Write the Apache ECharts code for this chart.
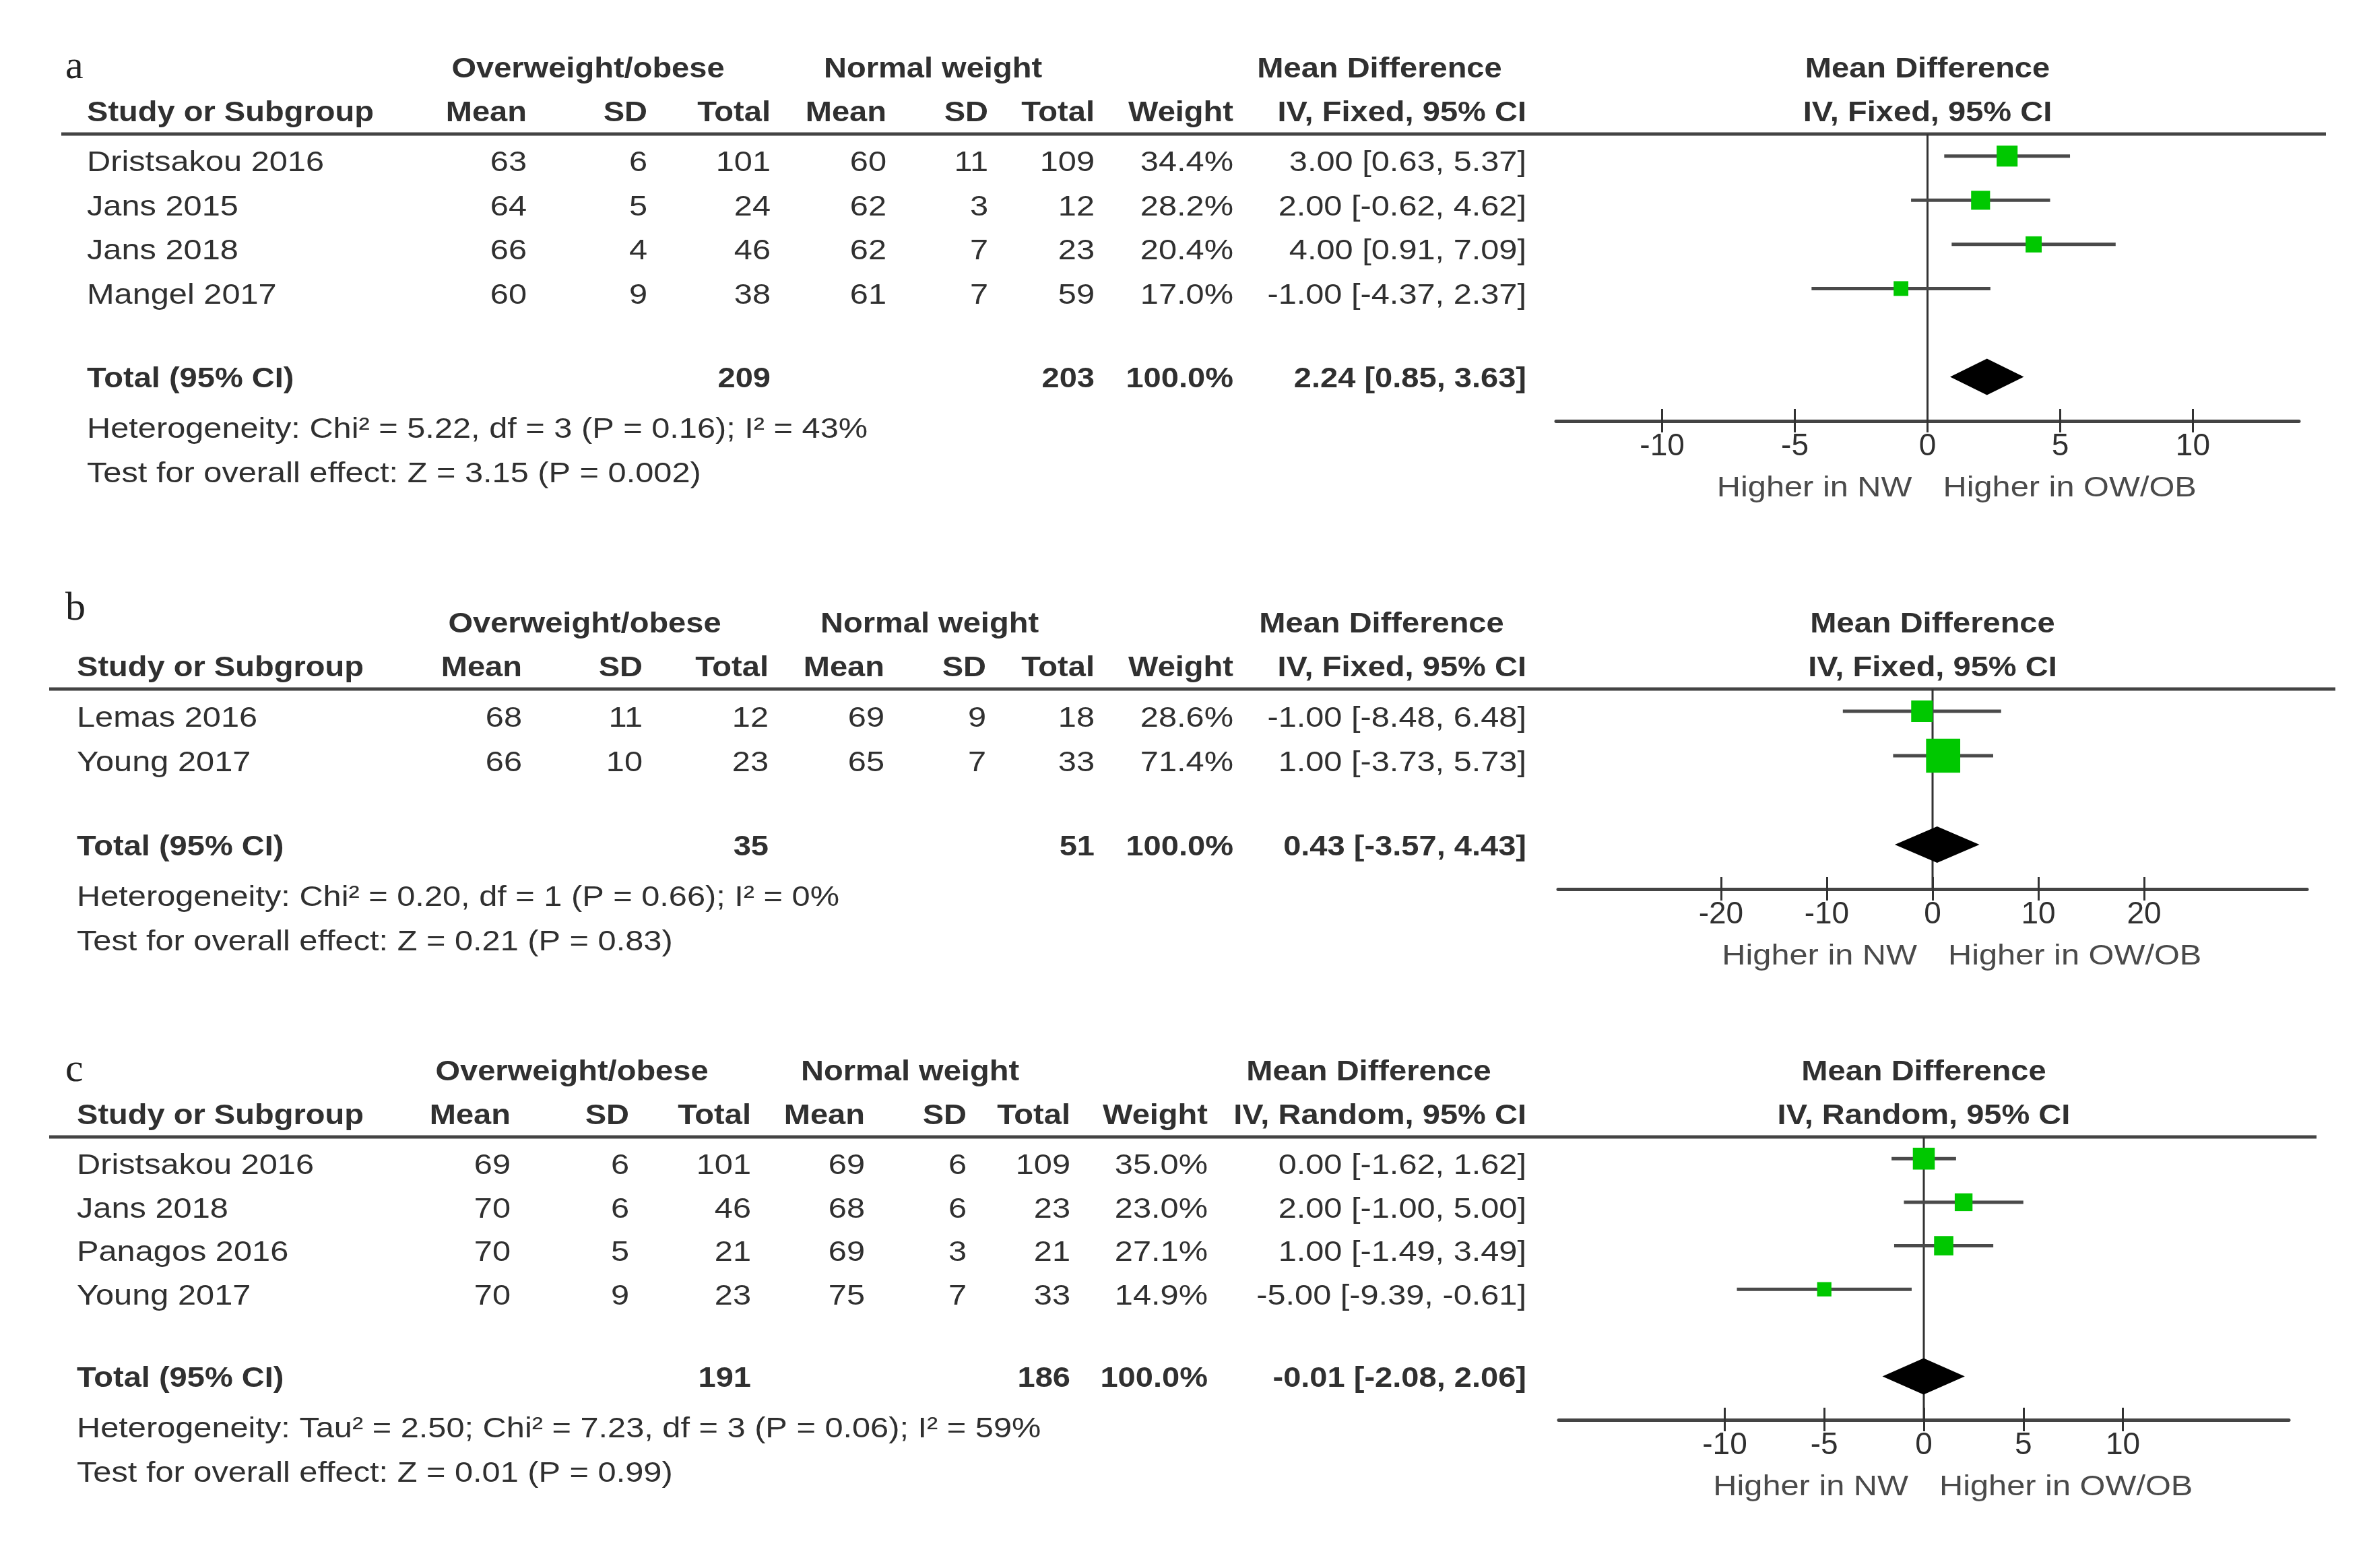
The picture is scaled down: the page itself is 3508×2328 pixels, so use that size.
<!doctype html>
<html lang="en">
  <head>
    <meta charset="UTF-8" />
    <title>Forest plots</title>
    <script src="https://cdn.jsdelivr.net/npm/echarts@6/dist/echarts.min.js"></script>
    <style>
      html, body { margin: 0; padding: 0; background: #fff; }
    </style>
  </head>
  <body>
    <div id="chart" style="width: 3508px; height: 2328px"></div>
    <script>
      // ---- panel a ----
      const studiesA = ['Dristsakou 2016', 'Jans 2015', 'Jans 2018', 'Mangel 2017'];
      const owMeanA = [63, 64, 66, 60];
      const owSdA = [6, 5, 4, 9];
      const owNA = [101, 24, 46, 38];
      const nwMeanA = [60, 62, 62, 61];
      const nwSdA = [11, 3, 7, 7];
      const nwNA = [109, 12, 23, 59];
      const weightA = [34.4, 28.2, 20.4, 17.0];
      const mdA = [3.0, 2.0, 4.0, -1.0];
      const loA = [0.63, -0.62, 0.91, -4.37];
      const hiA = [5.37, 4.62, 7.09, 2.37];
      const totalNA = [209, 203];
      const totalMdA = [2.24, 0.85, 3.63];
      const ticksA = [-10, -5, 0, 5, 10];
      const hetA = 'Heterogeneity: Chi² = 5.22, df = 3 (P = 0.16); I² = 43%';
      const testA = 'Test for overall effect: Z = 3.15 (P = 0.002)';

      // ---- panel b ----
      const studiesB = ['Lemas 2016', 'Young 2017'];
      const owMeanB = [68, 66];
      const owSdB = [11, 10];
      const owNB = [12, 23];
      const nwMeanB = [69, 65];
      const nwSdB = [9, 7];
      const nwNB = [18, 33];
      const weightB = [28.6, 71.4];
      const mdB = [-1.0, 1.0];
      const loB = [-8.48, -3.73];
      const hiB = [6.48, 5.73];
      const totalNB = [35, 51];
      const totalMdB = [0.43, -3.57, 4.43];
      const ticksB = [-20, -10, 0, 10, 20];
      const hetB = 'Heterogeneity: Chi² = 0.20, df = 1 (P = 0.66); I² = 0%';
      const testB = 'Test for overall effect: Z = 0.21 (P = 0.83)';

      // ---- panel c ----
      const studiesC = ['Dristsakou 2016', 'Jans 2018', 'Panagos 2016', 'Young 2017'];
      const owMeanC = [69, 70, 70, 70];
      const owSdC = [6, 6, 5, 9];
      const owNC = [101, 46, 21, 23];
      const nwMeanC = [69, 68, 69, 75];
      const nwSdC = [6, 6, 3, 7];
      const nwNC = [109, 23, 21, 33];
      const weightC = [35.0, 23.0, 27.1, 14.9];
      const mdC = [0.0, 2.0, 1.0, -5.0];
      const loC = [-1.62, -1.0, -1.49, -9.39];
      const hiC = [1.62, 5.0, 3.49, -0.61];
      const totalNC = [191, 186];
      const totalMdC = [-0.01, -2.08, 2.06];
      const ticksC = [-10, -5, 0, 5, 10];
      const hetC = 'Heterogeneity: Tau² = 2.50; Chi² = 7.23, df = 3 (P = 0.06); I² = 59%';
      const testC = 'Test for overall effect: Z = 0.01 (P = 0.99)';

      const panels = [
        { letter: 'a', method: 'IV, Fixed, 95% CI', studies: studiesA, owMean: owMeanA, owSd: owSdA, owN: owNA,
          nwMean: nwMeanA, nwSd: nwSdA, nwN: nwNA, weight: weightA, md: mdA, lo: loA, hi: hiA,
          totalN: totalNA, totalMd: totalMdA, ticks: ticksA, het: hetA, test: testA },
        { letter: 'b', method: 'IV, Fixed, 95% CI', studies: studiesB, owMean: owMeanB, owSd: owSdB, owN: owNB,
          nwMean: nwMeanB, nwSd: nwSdB, nwN: nwNB, weight: weightB, md: mdB, lo: loB, hi: hiB,
          totalN: totalNB, totalMd: totalMdB, ticks: ticksB, het: hetB, test: testB },
        { letter: 'c', method: 'IV, Random, 95% CI', studies: studiesC, owMean: owMeanC, owSd: owSdC, owN: owNC,
          nwMean: nwMeanC, nwSd: nwSdC, nwN: nwNC, weight: weightC, md: mdC, lo: loC, hi: hiC,
          totalN: totalNC, totalMd: totalMdC, ticks: ticksC, het: hetC, test: testC },
      ];

      // layout of each panel (pixels), kept apart from the data
      const layout = [
        { grid: { left: 2310, top: 199, width: 1103, height: 426 }, range: 14, k: 5.3, letterDy: -3,
          lineX: [91, 3453], studyX: 129, cols: [782, 961, 1144, 1316, 1467, 1625, 1831, 2266], groups: [873, 1385, 2048] },
        { grid: { left: 2313, top: 1023, width: 1112, height: 297 }, range: 35.4, k: 6.0, letterDy: -23,
          lineX: [73, 3467], studyX: 114, cols: [775, 954, 1141, 1313, 1464, 1625, 1831, 2266], groups: [868, 1380, 2051] },
        { grid: { left: 2314, top: 1688, width: 1084, height: 420 }, range: 18.34, k: 5.5, letterDy: -3,
          lineX: [73, 3439], studyX: 114, cols: [758, 934, 1115, 1284, 1435, 1589, 1793, 2266], groups: [849, 1351, 2032] },
      ];

      const FONT = 'Liberation Sans';
      const TEXT = '#303030';
      const LINE = '#444';
      const GREEN = '#00c800';

      const ci = (m, l, h) => m.toFixed(2) + ' [' + l.toFixed(2) + ', ' + h.toFixed(2) + ']';

      const grids = [];
      const xAxes = [];
      const yAxes = [];
      const series = [];

      panels.forEach((p, i) => {
        const L = layout[i];
        const n = p.studies.length;
        grids.push(L.grid);

        // main axis: line, inner half of ticks, labels
        xAxes.push({
          type: 'value', gridIndex: i, position: 'bottom', min: -L.range, max: L.range,
          axisLine: { show: true, onZero: false, lineStyle: { color: LINE, width: 5 } },
          axisTick: { show: true, inside: true, length: 18, customValues: p.ticks, lineStyle: { color: '#333', width: 3 } },
          axisLabel: { customValues: p.ticks, margin: 15, fontSize: 46, fontFamily: FONT, color: TEXT },
          splitLine: { show: false },
        });
        // second axis on the same line: outer half of the ticks
        xAxes.push({
          type: 'value', gridIndex: i, position: 'bottom', min: -L.range, max: L.range,
          axisLine: { show: false, onZero: false },
          axisTick: { show: true, inside: false, length: 17, customValues: p.ticks, lineStyle: { color: '#333', width: 3 } },
          axisLabel: { show: false },
          splitLine: { show: false },
        });
        yAxes.push({ type: 'value', gridIndex: i, min: -0.5, max: n + 2, inverse: true, show: false });

        // vertical line of no effect
        series.push({
          type: 'custom', xAxisIndex: 2 * i, yAxisIndex: i, silent: true,
          data: [[0, -0.5, n + 2]],
          encode: { x: 0, y: [1, 2] },
          renderItem: (params, api) => {
            const a = api.coord([api.value(0), api.value(1)]);
            const b = api.coord([api.value(0), api.value(2)]);
            return { type: 'line', shape: { x1: a[0], y1: a[1], x2: b[0], y2: b[1] }, style: { stroke: '#333', lineWidth: 3 } };
          },
        });

        // study CIs and weighted squares
        series.push({
          type: 'custom', xAxisIndex: 2 * i, yAxisIndex: i, silent: true,
          data: p.studies.map((s, j) => [j, p.md[j], p.lo[j], p.hi[j], p.weight[j]]),
          encode: { x: [1, 2, 3], y: 0 },
          renderItem: (params, api) => {
            const row = api.value(0);
            const a = api.coord([api.value(2), row]);
            const b = api.coord([api.value(3), row]);
            const c = api.coord([api.value(1), row]);
            const s = L.k * Math.sqrt(api.value(4));
            return {
              type: 'group',
              children: [
                { type: 'line', shape: { x1: a[0], y1: a[1], x2: b[0], y2: b[1] }, style: { stroke: '#4a4a4a', lineWidth: 5 } },
                { type: 'rect', shape: { x: c[0] - s / 2, y: c[1] - s / 2, width: s, height: s }, style: { fill: GREEN } },
              ],
            };
          },
        });

        // pooled estimate diamond
        series.push({
          type: 'custom', xAxisIndex: 2 * i, yAxisIndex: i, silent: true,
          data: [[n + 1, p.totalMd[0], p.totalMd[1], p.totalMd[2]]],
          encode: { x: [1, 2, 3], y: 0 },
          renderItem: (params, api) => {
            const row = api.value(0);
            const m = api.coord([api.value(1), row]);
            const l = api.coord([api.value(2), row]);
            const h = api.coord([api.value(3), row]);
            const d = 27;
            return {
              type: 'polygon',
              shape: { points: [[l[0], l[1]], [m[0], m[1] - d], [h[0], h[1]], [m[0], m[1] + d]] },
              style: { fill: '#000' },
            };
          },
        });
      });

      const chart = echarts.init(document.getElementById('chart'));
      chart.setOption({
        animation: false,
        backgroundColor: '#fff',
        grid: grids,
        xAxis: xAxes,
        yAxis: yAxes,
        series: series,
      });

      // table text, placed on the rows of each panel's y scale
      const txt = (x, y, text, bold, align) => ({
        type: 'text', x: x, y: y, scaleX: bold ? 1.12 : 1.16, silent: true,
        style: {
          text: text, fill: TEXT, fontFamily: FONT, fontSize: 42, fontWeight: bold ? 'bold' : 'normal',
          align: align || 'left', textAlign: align || 'left', verticalAlign: 'middle', textVerticalAlign: 'middle',
        },
      });

      const graphics = [];
      panels.forEach((p, i) => {
        const L = layout[i];
        const n = p.studies.length;
        const px = (x, y) => chart.convertToPixel({ xAxisIndex: 2 * i, yAxisIndex: i }, [x, y]);
        const lineY = px(0, -0.5)[1];
        const axisY = px(0, n + 2)[1];
        const zeroX = px(0, 0)[0];
        const h1 = lineY - 96;
        const h2 = lineY - 31;
        const c = L.cols;

        graphics.push({
          type: 'line', silent: true,
          shape: { x1: L.lineX[0], y1: lineY, x2: L.lineX[1], y2: lineY },
          style: { stroke: LINE, lineWidth: 5 },
        });

        graphics.push({
          type: 'text', x: 97, y: h1 + L.letterDy, silent: true,
          style: { text: p.letter, fill: '#222', fontFamily: 'Liberation Serif', fontSize: 60,
            align: 'left', textAlign: 'left', verticalAlign: 'middle', textVerticalAlign: 'middle' },
        });

        // header rows
        graphics.push(txt(L.groups[0], h1, 'Overweight/obese', true, 'center'));
        graphics.push(txt(L.groups[1], h1, 'Normal weight', true, 'center'));
        graphics.push(txt(L.groups[2], h1, 'Mean Difference', true, 'center'));
        graphics.push(txt(zeroX, h1, 'Mean Difference', true, 'center'));
        graphics.push(txt(L.studyX, h2, 'Study or Subgroup', true, 'left'));
        ['Mean', 'SD', 'Total', 'Mean', 'SD', 'Total', 'Weight', p.method].forEach((h, j) => {
          graphics.push(txt(c[j], h2, h, true, 'right'));
        });
        graphics.push(txt(zeroX, h2, p.method, true, 'center'));

        // study rows
        p.studies.forEach((s, j) => {
          const y = px(0, j)[1] + 11;
          const cells = [p.owMean[j], p.owSd[j], p.owN[j], p.nwMean[j], p.nwSd[j], p.nwN[j],
            p.weight[j].toFixed(1) + '%', ci(p.md[j], p.lo[j], p.hi[j])];
          graphics.push(txt(L.studyX, y, s, false, 'left'));
          cells.forEach((v, k) => graphics.push(txt(c[k], y, String(v), false, 'right')));
        });

        // total row
        const ty = px(0, n + 1)[1] + 4;
        graphics.push(txt(L.studyX, ty, 'Total (95% CI)', true, 'left'));
        graphics.push(txt(c[2], ty, String(p.totalN[0]), true, 'right'));
        graphics.push(txt(c[5], ty, String(p.totalN[1]), true, 'right'));
        graphics.push(txt(c[6], ty, '100.0%', true, 'right'));
        graphics.push(txt(c[7], ty, ci(p.totalMd[0], p.totalMd[1], p.totalMd[2]), true, 'right'));

        graphics.push(txt(L.studyX, ty + 75, p.het, false, 'left'));
        graphics.push(txt(L.studyX, ty + 141, p.test, false, 'left'));

        // favours labels under the axis
        const nw = txt(zeroX - 23, axisY + 100, 'Higher in NW', false, 'right');
        const ow = txt(zeroX + 23, axisY + 100, 'Higher in OW/OB', false, 'left');
        nw.style.fill = '#4a4a4a';
        ow.style.fill = '#4a4a4a';
        graphics.push(nw, ow);
      });

      chart.setOption({ graphic: { elements: graphics } });
    </script>
  </body>
</html>
